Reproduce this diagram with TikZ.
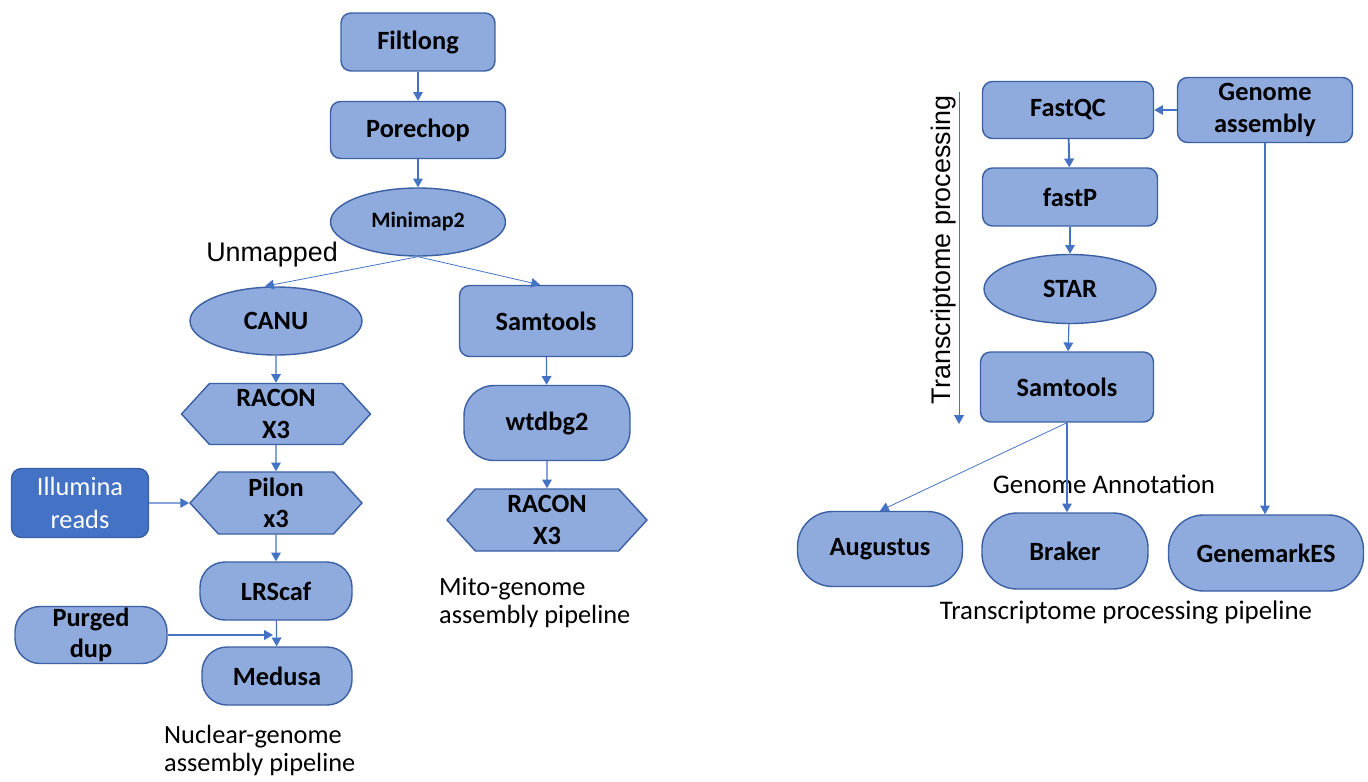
\documentclass[tikz,border=0pt]{standalone}
\usepackage{fontspec}
\setmainfont{Carlito}
\newfontfamily\arialfont{Liberation Sans}
\usetikzlibrary{arrows.meta,shapes.geometric,shapes.symbols}

\definecolor{boxfill}{HTML}{8FAADC}
\definecolor{boxline}{HTML}{3A5FA3}
\definecolor{arrowblue}{HTML}{4472C4}

\tikzset{
  tool/.style={draw=boxline, fill=boxfill, line width=0.8pt, inner sep=0pt,
    align=center, font=\fontsize{15}{18}\selectfont\bfseries},
  rbox/.style={tool, rectangle, rounded corners=0.2cm},
  pill/.style={tool, rectangle, rounded corners=0.5cm},
  oval/.style={tool, ellipse},
  hexa/.style={tool, signal, signal to=east and west, signal pointer angle=95},
  arr/.style={draw=arrowblue, line width=0.7pt, -{Triangle[width=5.5pt,length=5pt]}},
  thinarr/.style={arr, line width=0.45pt},
  note/.style={font=\fontsize{15}{16}\selectfont, align=left},
  sidelabel/.style={font=\arialfont\fontsize{15.3}{18}\selectfont}
}

\begin{document}
\begin{tikzpicture}[x=0.02cm, y=-0.02cm]
  \useasboundingbox (0,0) rectangle (1368,781);

  % Nuclear and mito genome assembly
  \node[rbox, minimum width=3.08cm, minimum height=1.16cm] (filtlong) at (418,42) {Filtlong};
  \node[rbox, minimum width=3.5cm, minimum height=1.14cm] (porechop) at (418,130) {Porechop};
  \node[oval, minimum width=3.5cm, minimum height=1.36cm,
        font=\fontsize{12.5}{15}\selectfont\bfseries] (minimap) at (418,222) {Minimap2};
  \node[sidelabel] (unmapped) at (272,255) {Unmapped};

  \node[oval, minimum width=3.44cm, minimum height=1.36cm] (canu) at (276,321) {CANU};
  \node[hexa, minimum width=3.78cm, minimum height=1.22cm] (racon) at (276,414) {RACON\\X3};
  \node[hexa, minimum width=3.44cm, minimum height=1.24cm] (pilon) at (276,503) {Pilon\\x3};
  \node[rbox, fill=arrowblue, text=white, font=\fontsize{15}{18.5}\selectfont,
        minimum width=2.74cm, minimum height=1.38cm] (illumina) at (80,503) {Illumina\\reads};
  \node[pill, minimum width=3.04cm, minimum height=1.16cm] (lrscaf) at (276,591) {LRScaf};
  \node[pill, minimum width=3.04cm, minimum height=1.14cm] (purged) at (91,635) {Purged\\dup};
  \node[pill, minimum width=3.0cm, minimum height=1.16cm] (medusa) at (277,676) {Medusa};
  \node[note, anchor=north west] (nuclear) at (158,719) {Nuclear-genome\\assembly pipeline};

  \node[rbox, minimum width=3.46cm, minimum height=1.42cm] (samtoolsM) at (546,321) {Samtools};
  \node[pill, rounded corners=0.6cm, minimum width=3.32cm, minimum height=1.5cm] (wtdbg) at (547,423) {wtdbg2};
  \node[hexa, minimum width=4.0cm, minimum height=1.24cm] (raconM) at (547,520) {RACON\\X3};
  \node[note, anchor=north west] (mito) at (433,571) {Mito-genome\\assembly pipeline};

  \draw[arr] (filtlong) -- (porechop);
  \draw[arr] (porechop) -- (minimap);
  \draw[thinarr] (minimap.south) -- ([xshift=-0.22cm]canu.north);
  \draw[thinarr] (minimap.south) -- ([xshift=-0.12cm]samtoolsM.north);
  \draw[arr] (canu) -- (racon);
  \draw[arr] (racon) -- (pilon);
  \draw[arr] (illumina) -- (pilon);
  \draw[arr] (pilon) -- (lrscaf);
  \draw[arr] (lrscaf) -- (medusa);
  \draw[arr, shorten >=0.08cm] (purged) -- (purged -| medusa.north);
  \draw[arr] (samtoolsM) -- (wtdbg);
  \draw[arr] (wtdbg) -- (raconM);

  % Transcriptome processing
  \node[rbox, minimum width=3.42cm, minimum height=1.14cm] (fastqc) at (1068,110) {FastQC};
  \node[rbox, minimum width=3.5cm, minimum height=1.3cm] (genome) at (1265,110) {Genome\\assembly};
  \node[rbox, minimum width=3.5cm, minimum height=1.16cm] (fastp) at (1070,197) {fastP};
  \node[oval, minimum width=3.44cm, minimum height=1.38cm] (star) at (1070,289) {STAR};
  \node[rbox, minimum width=3.46cm, minimum height=1.4cm] (samtoolsR) at (1067,387) {Samtools};
  \node[pill, rounded corners=0.7cm, minimum width=3.3cm, minimum height=1.5cm] (augustus) at (880,549) {Augustus};
  \node[pill, rounded corners=0.7cm, minimum width=3.32cm, minimum height=1.52cm] (braker) at (1065,551) {Braker};
  \node[pill, rounded corners=0.7cm, minimum width=3.9cm, minimum height=1.52cm] (genemark) at (1266,553) {GenemarkES};

  \coordinate (tpTop) at (959,92);
  \coordinate (tpEnd) at (959,424);
  \draw[arr, line width=0.5pt] (tpTop) -- (tpEnd);
  \node[sidelabel, rotate=90] (tplabel) at (944,250) {Transcriptome processing};
  \node[font=\fontsize{15.3}{18}\selectfont] (annot) at (1104,484) {Genome Annotation};
  \node[font=\fontsize{15.3}{18}\selectfont] (tpipe) at (1126,612) {Transcriptome processing pipeline};

  \draw[arr] (genome) -- (fastqc);
  \draw[arr, line width=1.1pt] (fastqc) -- (fastp);
  \draw[arr] (fastp) -- (star);
  \draw[arr] (star) -- (samtoolsR);
  \draw[thinarr] (samtoolsR.south) -- (augustus.north);
  \draw[arr] (samtoolsR.south) -- (samtoolsR.south |- braker.north);
  \draw[arr] (genome) -- (genome |- genemark.north);
\end{tikzpicture}
\end{document}
